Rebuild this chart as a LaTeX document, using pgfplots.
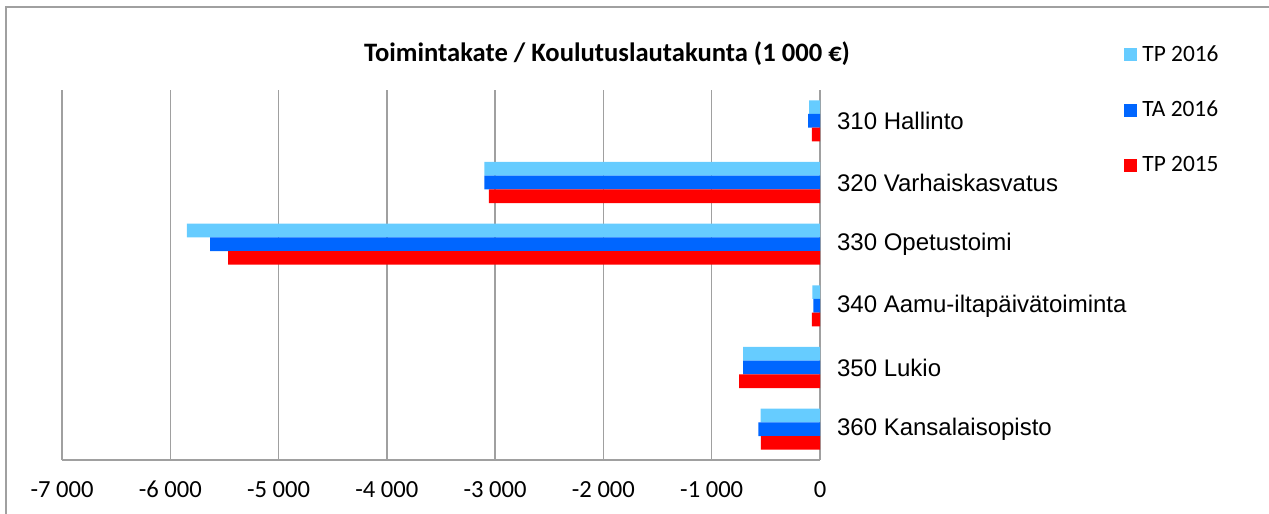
\documentclass[border=0pt]{standalone}
\usepackage{fontspec}
\setmainfont{Carlito}
\newfontfamily\arial{Liberation Sans}
\usepackage{pgfplots}
\pgfplotsset{compat=1.18}

\definecolor{tp16}{HTML}{66CCFF}
\definecolor{ta16}{HTML}{0066FF}
\definecolor{tp15}{HTML}{FF0000}
\definecolor{gridgray}{HTML}{A0A0A0}

\begin{document}
\begin{tikzpicture}
\path[use as bounding box] (0,0) rectangle (634.5pt,257pt);
\draw[gridgray, line width=1pt] (3pt,0) -- (3pt,253.5pt) -- (634.5pt,253.5pt);
\begin{axis}[
    at={(31pt,27pt)}, anchor=south west,
    scale only axis,
    width=379pt, height=185pt,
    xbar, bar width=6.85pt,
    xmin=-7000, xmax=0,
    ymin=-0.5, ymax=5.5,
    axis x line*=bottom, axis y line*=right,
    axis line style={gridgray, line width=1pt, -},
    xtick={-7000,-6000,-5000,-4000,-3000,-2000,-1000,0},
    xticklabels={{-7 000},{-6 000},{-5 000},{-4 000},{-3 000},{-2 000},{-1 000},{0}},
    ytick={0,1,2,3,4,5},
    yticklabels={360 Kansalaisopisto,350 Lukio,340 Aamu-iltapäivätoiminta,330 Opetustoimi,320 Varhaiskasvatus,310 Hallinto},
    major tick length=0pt,
    xmajorgrids, grid style={gridgray, line width=0.75pt},
    xticklabel style={font=\fontsize{12.3}{14}\selectfont, yshift=-7pt},
    yticklabel style={font=\arial\fontsize{12}{14}\selectfont, anchor=west, xshift=5pt},
    title={Toimintakate / Koulutuslautakunta (1 000 €)},
    title style={at={(0.719,1.065)}, anchor=center, font=\bfseries\fontsize{13.3}{16}\selectfont},
    legend image code/.code={\fill[#1, draw=none] (0pt,-3.25pt) rectangle (6.5pt,3.25pt);},
    legend style={draw=none, fill=none, at={(1.401,1.135)}, anchor=north west,
        font=\fontsize{11.7}{13}\selectfont, row sep=13.25pt, inner sep=0pt,
        nodes={inner sep=2.5pt, anchor=west}},
]
\addplot[fill=tp16, draw=none, bar shift=6.85pt] coordinates {
    (-548,0) (-711,1) (-71,2) (-5847,3) (-3100,4) (-100,5)
};
\addplot[fill=ta16, draw=none, bar shift=0pt] coordinates {
    (-570,0) (-711,1) (-62,2) (-5632,3) (-3100,4) (-110,5)
};
\addplot[fill=tp15, draw=none, bar shift=-6.85pt] coordinates {
    (-545,0) (-748,1) (-74,2) (-5466,3) (-3057,4) (-75,5)
};
\legend{TP 2016, TA 2016, TP 2015}
\end{axis}
\end{tikzpicture}
\end{document}
